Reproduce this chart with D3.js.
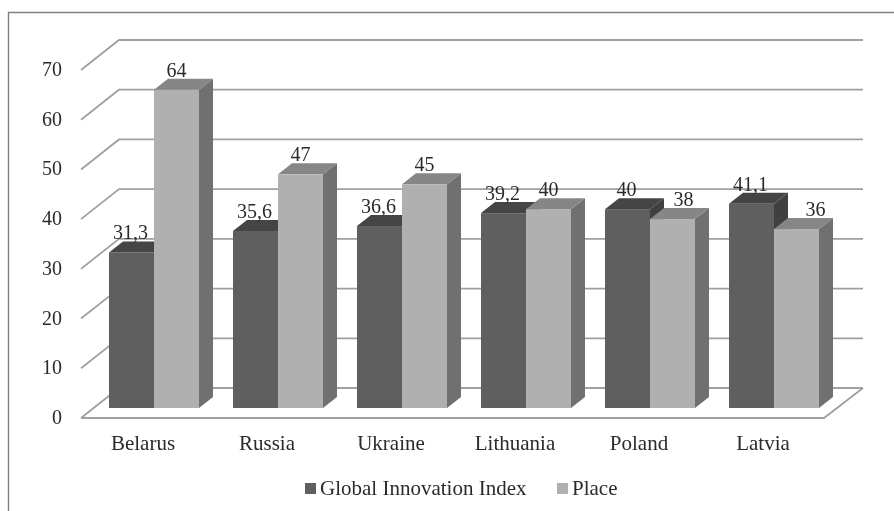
<!DOCTYPE html>
<html>
<head>
<meta charset="utf-8">
<script src="https://cdn.jsdelivr.net/npm/d3@7"></script>
<style>
  html, body { margin: 0; padding: 0; background: #fff; }
  svg { display: block; }
  text { font-family: "Liberation Serif", serif; fill: #2b2b2b; }
</style>
</head>
<body>
<div id="chart"></div>
<script>
var countries = ["Belarus", "Russia", "Ukraine", "Lithuania", "Poland", "Latvia"];
var indexValues = [31.3, 35.6, 36.6, 39.2, 40, 41.1];
var placeValues = [64, 47, 45, 40, 38, 36];
var indexLabels = ["31,3", "35,6", "36,6", "39,2", "40", "41,1"];
var placeLabels = ["64", "47", "45", "40", "38", "36"];
var tickValues = [0, 10, 20, 30, 40, 50, 60, 70];
var legendNames = ["Global Innovation Index", "Place"];

var w = 894, h = 511;

var svg = d3.select("#chart").append("svg")
  .attr("width", w)
  .attr("height", h);

//soft edge, the reference is a scanned-looking picture
svg.append("filter").attr("id", "soft")
  .append("feGaussianBlur").attr("stdDeviation", 0.45);

var root = svg.append("g").attr("filter", "url(#soft)");

//frame, only left and top are visible
root.append("path")
  .attr("d", "M8.5,511V12.5H894")
  .attr("fill", "none")
  .attr("stroke", "#7f7f7f")
  .attr("stroke-width", 1.4);

var y = d3.scaleLinear().domain([0, 70]).range([418, 70]);
var x = d3.scaleBand().domain(countries).range([81, 825]);

var depthX = 38, depthY = 30;  //floor/wall offset
var barDX = 14, barDY = 11;    //bar depth offset
var barShift = -10;            //bars sit this far above the front floor line
var barW = 45, gridColor = "#a0a0a0";

//place labels that were dragged right of their bar in the original
var placeNudge = {Poland: 11, Latvia: 19};

//wall gridlines with their left-side slants
var grid = root.append("g");
tickValues.forEach(function(t) {
  grid.append("polyline")
    .attr("points", [
      [x.range()[0], y(t)],
      [x.range()[0] + depthX, y(t) - depthY],
      [x.range()[1] + depthX, y(t) - depthY]
    ].join(" "))
    .attr("fill", "none")
    .attr("stroke", gridColor)
    .attr("stroke-width", 1.8);
});

//floor front and right edge
grid.append("polyline")
  .attr("points", [
    [x.range()[0], y(0)],
    [x.range()[1] - 1, y(0)],
    [x.range()[1] + depthX, y(0) - depthY]
  ].join(" "))
  .attr("fill", "none")
  .attr("stroke", gridColor)
  .attr("stroke-width", 1.8);

//one 3D bar: side, top, front
function drawBar(g, left, value, front, top, side) {
  var yTop = y(value) + barShift, yBase = y(0) + barShift;
  g.append("polygon")
    .attr("points", [
      [left + barW, yTop], [left + barW + barDX, yTop - barDY],
      [left + barW + barDX, yBase - barDY], [left + barW, yBase]
    ].join(" "))
    .attr("fill", side);
  g.append("polygon")
    .attr("points", [
      [left, yTop], [left + barDX, yTop - barDY],
      [left + barW + barDX, yTop - barDY], [left + barW, yTop]
    ].join(" "))
    .attr("fill", top);
  g.append("rect")
    .attr("x", left)
    .attr("y", yTop)
    .attr("width", barW)
    .attr("height", yBase - yTop)
    .attr("fill", front);
}

var bars = root.append("g");
countries.forEach(function(c, i) {
  var left = x(c) + 28;
  drawBar(bars, left, indexValues[i], "#5f5f5f", "#454545", "#3f3f3f");
  drawBar(bars, left + barW, placeValues[i], "#b0b0b0", "#868686", "#6f6f6f");
});

//value labels
var labels = root.append("g").attr("font-size", 20).attr("text-anchor", "middle");
countries.forEach(function(c, i) {
  var left = x(c) + 28;
  labels.append("text")
    .attr("x", left + barW / 2 - 1)
    .attr("y", y(indexValues[i]) + barShift - barDY - 2)
    .text(indexLabels[i]);
  labels.append("text")
    .attr("x", left + barW * 1.5 + (placeNudge[c] || 0))
    .attr("y", y(placeValues[i]) + barShift - barDY - 2)
    .text(placeLabels[i]);
});

//value axis labels
root.append("g").selectAll("text")
  .data(tickValues)
  .enter()
  .append("text")
  .attr("x", 62)
  .attr("y", function(d) { return y(d) - 1; })
  .attr("dy", "0.35em")
  .attr("text-anchor", "end")
  .attr("font-size", 20)
  .text(function(d) { return d; });

//category labels
root.append("g").selectAll("text")
  .data(countries)
  .enter()
  .append("text")
  .attr("x", function(d) { return x(d) + x.bandwidth() / 2; })
  .attr("y", 450)
  .attr("text-anchor", "middle")
  .attr("font-size", 21)
  .text(function(d) { return d; });

//legend
var legend = root.append("g");
var legendX = [305, 557], legendColors = ["#5f5f5f", "#b0b0b0"];
legendNames.forEach(function(d, i) {
  legend.append("rect")
    .attr("x", legendX[i])
    .attr("y", 483)
    .attr("width", 11)
    .attr("height", 11)
    .attr("fill", legendColors[i]);
  legend.append("text")
    .attr("x", legendX[i] + 15)
    .attr("y", 495)
    .attr("font-size", 21)
    .text(d);
});
</script>
</body>
</html>
